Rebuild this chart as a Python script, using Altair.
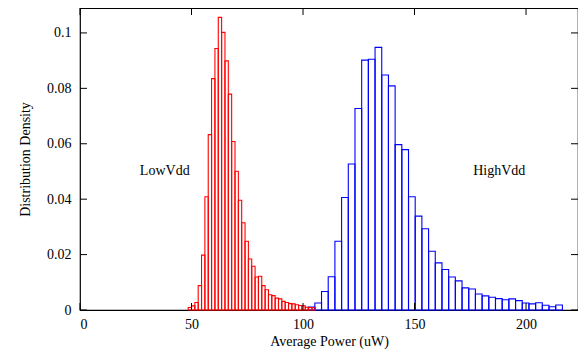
import altair as alt
import pandas as pd

# LowVdd histogram (red)
red_bin_start = 48.5
red_bin_width = 1.5
red_density = [0.0009, 0.0015, 0.0027, 0.0088, 0.0198, 0.0409, 0.0633, 0.0835,
               0.0944, 0.1056, 0.1002, 0.0899, 0.0779, 0.0608, 0.0501, 0.0396,
               0.0315, 0.0248, 0.0184, 0.0158, 0.0119, 0.0122, 0.0088, 0.0073,
               0.0055, 0.0052, 0.0043, 0.0040, 0.0031, 0.0027, 0.0023, 0.0022,
               0.0019, 0.0016, 0.0015, 0.0010, 0.0009, 0.0008]

# HighVdd histogram (blue)
blue_bin_start = 102.3
blue_bin_width = 3.0
blue_density = [0.0011, 0.0025, 0.0067, 0.0120, 0.0248, 0.0406, 0.0527, 0.0727,
                0.0902, 0.0905, 0.0948, 0.0848, 0.0809, 0.0597, 0.0579, 0.0409,
                0.0339, 0.0293, 0.0212, 0.0170, 0.0146, 0.0119, 0.0105, 0.0080,
                0.0076, 0.0058, 0.0051, 0.0046, 0.0041, 0.0037, 0.0040, 0.0034,
                0.0025, 0.0022, 0.0026, 0.0017, 0.0012, 0.0018]

x_ticks = [0, 50, 100, 150, 200]
y_ticks = [0, 0.02, 0.04, 0.06, 0.08, 0.1]

labels = ["LowVdd", "HighVdd"]
label_x = [38, 188]
label_y = [0.05, 0.05]

X_DOMAIN = [0, 223.3]
Y_DOMAIN = [0, 0.109]
W, H = 498, 302
FONT = "Liberation Serif"


def hist_frame(start, width, vals):
    return pd.DataFrame({
        "x0": [start + i * width for i in range(len(vals))],
        "x1": [start + (i + 1) * width for i in range(len(vals))],
        "y": vals,
        "y0": [0.0] * len(vals),
    })


red_df = hist_frame(red_bin_start, red_bin_width, red_density)
blue_df = hist_frame(blue_bin_start, blue_bin_width, blue_density)

xs = alt.Scale(domain=X_DOMAIN, nice=False, zero=False)
ys = alt.Scale(domain=Y_DOMAIN, nice=False)

x_axis = alt.Axis(values=x_ticks, ticks=False, domain=False, grid=False,
                  labelPadding=7, title="Average Power (uW)", titlePadding=3,
                  format="d")
y_axis = alt.Axis(values=y_ticks, ticks=False, domain=False, grid=False,
                  labelPadding=9, title="Distribution Density", titlePadding=14,
                  format="~g")

blue = alt.Chart(blue_df).mark_rect(fillOpacity=0, stroke="#0000ff", strokeWidth=1.1).encode(
    x=alt.X("x0:Q", scale=xs, axis=x_axis),
    x2="x1:Q",
    y=alt.Y("y:Q", scale=ys, axis=y_axis),
    y2="y0:Q",
)

red = alt.Chart(red_df).mark_rect(fillOpacity=0, stroke="#ff0000", strokeWidth=1.1).encode(
    x=alt.X("x0:Q", scale=xs),
    x2="x1:Q",
    y=alt.Y("y:Q", scale=ys),
    y2="y0:Q",
)

xt_df = pd.DataFrame({"v": x_ticks})
yt_df = pd.DataFrame({"v": y_ticks})
TL = 7
xt_bottom = alt.Chart(xt_df).mark_rule(color="black", strokeWidth=1).encode(
    x=alt.X("v:Q", scale=xs), y=alt.value(H - TL), y2=alt.value(H))
xt_top = alt.Chart(xt_df).mark_rule(color="black", strokeWidth=1).encode(
    x=alt.X("v:Q", scale=xs), y=alt.value(0), y2=alt.value(TL))
yt_left = alt.Chart(yt_df).mark_rule(color="black", strokeWidth=1).encode(
    y=alt.Y("v:Q", scale=ys), x=alt.value(0), x2=alt.value(TL))
yt_right = alt.Chart(yt_df).mark_rule(color="black", strokeWidth=1).encode(
    y=alt.Y("v:Q", scale=ys), x=alt.value(W - TL), x2=alt.value(W))

text_df = pd.DataFrame({"t": labels, "x": label_x, "y": label_y})
texts = alt.Chart(text_df).mark_text(font=FONT, fontSize=14, color="black").encode(
    x=alt.X("x:Q", scale=xs), y=alt.Y("y:Q", scale=ys), text="t:N")

chart = alt.layer(blue, red, xt_bottom, xt_top, yt_left, yt_right, texts).properties(
    width=W, height=H,
    autosize=alt.AutoSizeParams(type="none"),
    padding={"left": 72, "top": 0, "right": 0, "bottom": 40},
).configure_view(
    stroke="black", strokeWidth=1.2
).configure_axis(
    labelFont=FONT, titleFont=FONT, labelFontSize=14, titleFontSize=14,
    labelColor="black", titleColor="black", titleFontWeight="normal",
)

chart.save("out.html", embed_options={"renderer": "svg", "actions": False})
